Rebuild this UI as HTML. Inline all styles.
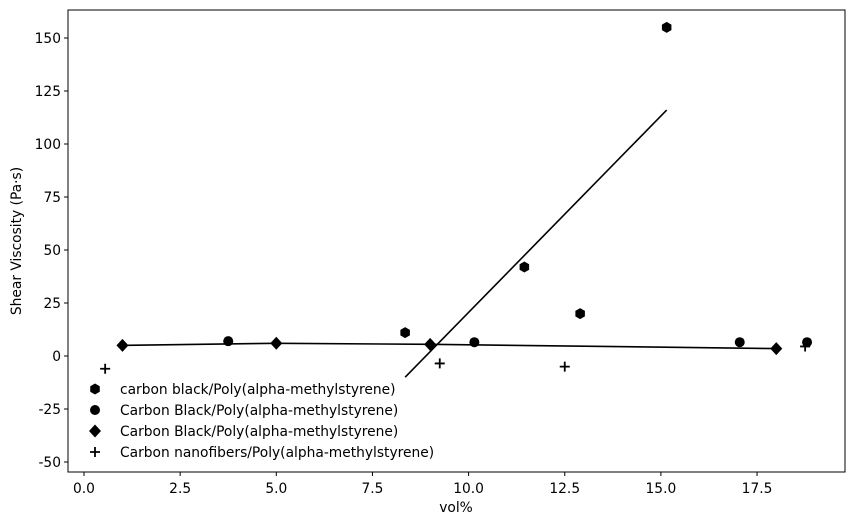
<!DOCTYPE html>
<html><head><meta charset="utf-8"><style>
body{margin:0;background:#fff;font-family:"Liberation Sans","DejaVu Sans",sans-serif}
svg text{font-family:"DejaVu Sans","Liberation Sans",sans-serif;font-size:13.8px;fill:#000}
</style></head><body>
<svg id="chart" width="853" height="525">
<rect x="68" y="10" width="777" height="462" fill="#fff" stroke="#000" stroke-width="1"/>
<g id="marks"></g>
<g id="axes"></g>
<text x="456" y="512" text-anchor="middle">vol%</text>
<text transform="translate(21,241) rotate(-90)" text-anchor="middle">Shear Viscosity (Pa·s)</text>
<g id="legend"></g>
</svg>
<script>
const xTicks=[0,2.5,5,7.5,10,12.5,15,17.5];
const xTickLabels=["0.0","2.5","5.0","7.5","10.0","12.5","15.0","17.5"];
const yTicks=[-50,-25,0,25,50,75,100,125,150];
const hexX=[8.35,11.45,12.9,15.15];
const hexY=[11,42,20,155];
const hexFitX=[8.35,15.15];
const hexFitY=[-10,116];
const circX=[3.75,10.15,17.05,18.8];
const circY=[7,6.5,6.5,6.5];
const diaX=[1,5,9,18];
const diaY=[5,6,5.5,3.5];
const plusX=[0.55,9.25,12.5,18.75];
const plusY=[-6,-3.5,-5,4.5];
const legendLabels=["carbon black/Poly(alpha-methylstyrene)","Carbon Black/Poly(alpha-methylstyrene)","Carbon Black/Poly(alpha-methylstyrene)","Carbon nanofibers/Poly(alpha-methylstyrene)"];

const NS="http://www.w3.org/2000/svg";
const sx=v=>84+v*38.46;
const sy=v=>356-v*2.12;
function mk(t,a,p){const e=document.createElementNS(NS,t);for(const k in a)e.setAttribute(k,a[k]);p.appendChild(e);return e;}
const axes=document.getElementById('axes'),marks=document.getElementById('marks'),legend=document.getElementById('legend');
xTicks.forEach((v,i)=>{
  const l=mk('line',{x1:sx(v),x2:sx(v),y1:472,y2:476,stroke:'#000'},axes);
  
  
  const t=mk('text',{x:sx(v),y:493,'text-anchor':'middle'},axes);t.textContent=xTickLabels[i];
  
  
});
yTicks.forEach(v=>{
  const l=mk('line',{x1:64,x2:68,y1:sy(v),y2:sy(v),stroke:'#000'},axes);
  
  
  const t=mk('text',{x:61,y:sy(v)+5,'text-anchor':'end'},axes);t.textContent=v;
  
  
});
function hex(cx,cy,r,p){let pts=[];for(let k=0;k<6;k++){const a=Math.PI/3*k+Math.PI/6;pts.push((cx+r*Math.cos(a))+','+(cy+r*Math.sin(a)));}return mk('polygon',{points:pts.join(' '),fill:'#000'},p);}
function circ(cx,cy,p){return mk('circle',{cx:cx,cy:cy,r:5,fill:'#000'},p);}
function dia(cx,cy,p){return mk('polygon',{points:`${cx},${cy-6.5} ${cx+6},${cy} ${cx},${cy+6.5} ${cx-6},${cy}`,fill:'#000'},p);}
function plus(cx,cy,p){return mk('path',{d:`M${cx-5},${cy}H${cx+5}M${cx},${cy-5}V${cy+5}`,stroke:'#000','stroke-width':1.8},p);}
const fit=mk('polyline',{points:hexFitX.map((x,i)=>sx(x)+','+sy(hexFitY[i])).join(' '),fill:'none',stroke:'#000','stroke-width':1.6},marks);


const dl=mk('polyline',{points:diaX.map((x,i)=>sx(x)+','+sy(diaY[i])).join(' '),fill:'none',stroke:'#000','stroke-width':1.6},marks);


hexX.forEach((x,i)=>{const e=hex(sx(x),sy(hexY[i]),5.5,marks);
  
  });
circX.forEach((x,i)=>{const e=circ(sx(x),sy(circY[i]),marks);
  
  });
diaX.forEach((x,i)=>{const e=dia(sx(x),sy(diaY[i]),marks);
  
  });
plusX.forEach((x,i)=>{const e=plus(sx(x),sy(plusY[i]),marks);
  
  });
const fns=[(x,y,p)=>hex(x,y,5.5,p),circ,dia,plus];
legendLabels.forEach((lab,i)=>{
  const y=389+i*21;
  const g=mk('g',{},legend);
  
  
  fns[i](95,y,g);
  const t=mk('text',{x:120,y:y+5},g);t.textContent=lab;
});
</script>
</body></html>
